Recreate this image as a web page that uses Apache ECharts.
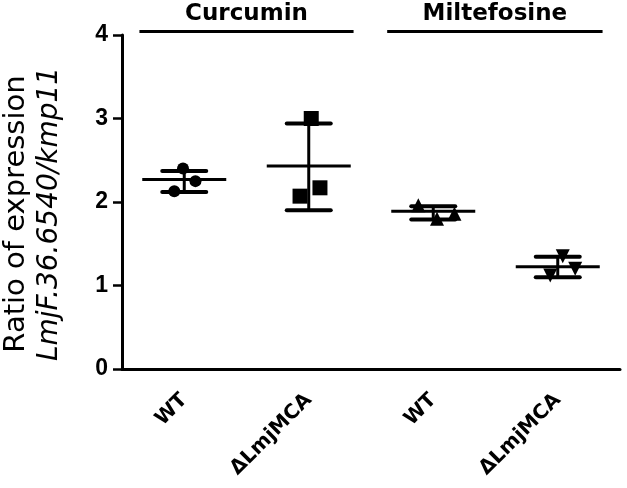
<!DOCTYPE html>
<html>
<head>
<meta charset="utf-8">
<script src="https://cdn.jsdelivr.net/npm/echarts@6/dist/echarts.min.js"></script>
<style>html,body{margin:0;padding:0;background:#fff;}#c{width:627px;height:488px;}</style>
</head>
<body>
<div id="c"></div>
<script>
// ---- data ----
const categories = ['WT', '\u0394LmjMCA', 'WT', '\u0394LmjMCA'];
const yTicks = [0, 1, 2, 3, 4];
const groupNames = ['Curcumin', 'Miltefosine'];
const groupStart = [-0.36, 1.63];   // in category-index units
const groupEnd = [1.36, 3.36];

const wtCurX = [-0.01, 0.09, -0.08];
const wtCurY = [2.40, 2.25, 2.13];
const koCurX = [1.02, 0.93, 1.09];
const koCurY = [3.00, 2.07, 2.17];
const wtMilX = [1.88, 2.03, 2.17];
const wtMilY = [1.96, 1.80, 1.86];
const koMilX = [3.04, 2.94, 3.14];
const koMilY = [1.35, 1.12, 1.20];

const meanVals = [2.27, 2.43, 1.89, 1.225];
const sdLow = [2.12, 1.90, 1.79, 1.10];
const sdHigh = [2.37, 2.94, 1.95, 1.345];

// ---- chart ----
const chart = echarts.init(document.getElementById('c'), null, {renderer: 'canvas'});
const pts = (xs, ys) => xs.map((x, i) => [x, ys[i]]);
const errData = meanVals.map((m, i) => [i, m, sdLow[i], sdHigh[i]]);
const grpData = groupNames.map((n, i) => [groupStart[i], groupEnd[i], n]);
const dot = {color: '#000', opacity: 1};

const option = {
  backgroundColor: '#fff',
  animation: false,
  grid: {left: 122, right: 7, top: 35, bottom: 119, containLabel: false, outerBoundsMode: 'none'},
  xAxis: [{
    type: 'category',
    data: categories,
    boundaryGap: true,
    axisLine: {lineStyle: {color: '#000', width: 3}},
    axisTick: {alignWithLabel: true, length: 8, lineStyle: {color: '#000', width: 2.5}},
    axisLabel: {rotate: 45, margin: 28, color: '#000', fontFamily: 'DejaVu Sans', fontWeight: 'bold', fontSize: 20}
  }, {
    type: 'value', min: -0.5, max: 3.5, show: false
  }],
  yAxis: {
    type: 'value', min: 0, max: 4, interval: 1,
    name: '{a|Ratio of expression}\n{b|LmjF.36.6540/kmp11}',
    nameLocation: 'middle',
    nameGap: 55,
    nameTextStyle: {
      padding: [0, 24, 0, 0],
      rich: {
        a: {fontFamily: 'DejaVu Sans', fontSize: 29, color: '#000', lineHeight: 34},
        b: {fontFamily: 'DejaVu Sans', fontStyle: 'italic', fontSize: 28, color: '#000', lineHeight: 34}
      }
    },
    splitLine: {show: false},
    axisLine: {show: true, onZero: false, lineStyle: {color: '#000', width: 3}},
    axisTick: {show: true, length: 9, lineStyle: {color: '#000', width: 2.5}},
    axisLabel: {margin: 14, color: '#000', fontFamily: 'Liberation Sans', fontWeight: 'bold', fontSize: 23,
      formatter: v => yTicks.includes(v) ? String(v) : ''}
  },
  series: [
    {type: 'scatter', xAxisIndex: 1, symbol: 'circle', symbolSize: 12, itemStyle: dot, data: pts(wtCurX, wtCurY)},
    {type: 'scatter', xAxisIndex: 1, symbol: 'rect', symbolSize: 15, itemStyle: dot, data: pts(koCurX, koCurY)},
    {type: 'scatter', xAxisIndex: 1, symbol: 'triangle', symbolSize: 14, itemStyle: dot, data: pts(wtMilX, wtMilY)},
    {type: 'scatter', xAxisIndex: 1, symbol: 'triangle', symbolRotate: 180, symbolSize: 14, itemStyle: dot, data: pts(koMilX, koMilY)},
    {
      type: 'custom', xAxisIndex: 1, data: errData, z: 5,
      renderItem: (params, api) => {
        const c = api.coord([api.value(0), api.value(1)]);
        const lo = api.coord([api.value(0), api.value(2)]);
        const hi = api.coord([api.value(0), api.value(3)]);
        const st = {stroke: '#000', lineWidth: 3};
        const cap = {stroke: '#000', lineWidth: 4, lineCap: 'round'};
        return {type: 'group', children: [
          {type: 'line', shape: {x1: c[0] - 42, y1: c[1], x2: c[0] + 42, y2: c[1]}, style: st},
          {type: 'line', shape: {x1: c[0], y1: lo[1], x2: c[0], y2: hi[1]}, style: st},
          {type: 'line', shape: {x1: c[0] - 22, y1: lo[1], x2: c[0] + 22, y2: lo[1]}, style: cap},
          {type: 'line', shape: {x1: c[0] - 22, y1: hi[1], x2: c[0] + 22, y2: hi[1]}, style: cap}
        ]};
      }
    },
    {
      type: 'custom', xAxisIndex: 1, data: grpData, clip: false, silent: true,
      encode: {x: [0, 1]},
      renderItem: (params, api) => {
        const a = api.coord([api.value(0), 4]);
        const b = api.coord([api.value(1), 4]);
        const y = a[1] - 3.5;
        return {type: 'group', children: [
          {type: 'line', shape: {x1: a[0], y1: y, x2: b[0], y2: y}, style: {stroke: '#000', lineWidth: 3}},
          {type: 'text', x: (a[0] + b[0]) / 2, y: y - 17,
            style: {text: grpData[params.dataIndex][2], fill: '#000', fontFamily: 'DejaVu Sans', fontWeight: 'bold', fontSize: 23,
              align: 'center', verticalAlign: 'middle'}}
        ]};
      }
    }
  ]
};
chart.setOption(option);
</script>
</body>
</html>
